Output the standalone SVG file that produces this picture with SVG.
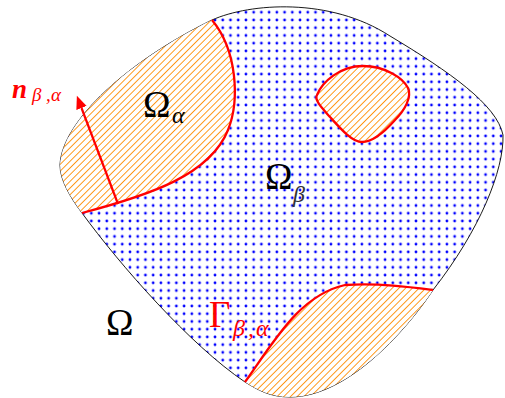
<svg xmlns="http://www.w3.org/2000/svg" width="505" height="398" viewBox="0 0 505 398">
  <style>
    .outer { fill: url(#dots); stroke: #000; stroke-width: 0.9; }
    .hatch { fill: url(#hatch); stroke: none; }
    .red { fill: none; stroke: #ff0000; stroke-width: 2.3; stroke-linejoin: round; }
    .lbl { font-family: "Liberation Serif", "DejaVu Serif", serif; }
    .big { font-size: 37px; }
    .sub { font-size: 24px; font-style: italic; }
  </style>
  <defs>
    <pattern id="dots" patternUnits="userSpaceOnUse" x="327.1" y="132.1" width="7.73" height="7.73">
      <circle cx="3.865" cy="3.865" r="1.4" fill="#0000ff"/>
    </pattern>
    <pattern id="hatch" patternUnits="userSpaceOnUse" width="4.74" height="10" patternTransform="rotate(45)">
      <rect x="0" y="0" width="4.74" height="10" fill="#ffffff"/>
      <line x1="2.37" y1="-1" x2="2.37" y2="11" stroke="#ff8c00" stroke-width="0.9"/>
    </pattern>
    <marker id="head" markerUnits="userSpaceOnUse" markerWidth="16" markerHeight="14" refX="0" refY="0" viewBox="0 -7 16 14" orient="auto">
      <path d="M0,-5.5 L13,0 L0,5.5 Z" fill="#ff0000"/>
    </marker>
  </defs>

  <g id="omega">
    <path class="outer" d="M212,20 C250,3 330,-3 390,36 C450,72 497,105 503,135 C504,170 480,230 433,290 C410,325 350,397 290,397 C270,397 258,390 245,382 C190,345 120,265 82,213 C70,197 60,180 60,165 C62,120 130,60 212,20 Z"/>
  </g>

  <g id="omega-alpha">
    <path class="hatch" d="M82,213 C70,197 60,180 60,165 C62,120 130,60 212,20 C237,50 240,100 228,130 C210,175 150,195 82,213 Z"/>
    <path class="red" d="M82,213 C150,195 210,175 228,130 C240,100 237,50 212,20"/>
  </g>

  <g id="omega-alpha-island">
    <path class="hatch" d="M317,95 C322,82 340,66 363,66 C385,66 403,78 408,88 C412,97 405,110 395,120 C380,137 370,142 362,142 C352,142 340,128 330,117 C322,108 314,100 317,95 Z"/>
    <path class="red" d="M317,95 C322,82 340,66 363,66 C385,66 403,78 408,88 C412,97 405,110 395,120 C380,137 370,142 362,142 C352,142 340,128 330,117 C322,108 314,100 317,95 Z"/>
  </g>

  <g id="omega-alpha-bottom">
    <path class="hatch" d="M245,382 C275,340 300,295 345,285 C380,283 410,287 433,290 C410,325 350,397 290,397 C270,397 258,390 245,382 Z"/>
    <path class="red" d="M245,382 C275,340 300,295 345,285 C380,283 410,287 433,290"/>
  </g>

  <g id="connectors">
    <line x1="118" y1="204" x2="81.5" y2="108" stroke="#ff0000" stroke-width="2.2" marker-end="url(#head)"/>
  </g>

  <g id="labels" class="lbl">
    <text x="143" y="117" class="big">Ω</text>
    <text x="172" y="123" class="sub">α</text>
    <text x="265" y="189" class="big">Ω</text>
    <text x="293" y="202" class="sub" fill="#333">β</text>
    <text x="106" y="335" class="big">Ω</text>
    <text x="209" y="327" class="big" fill="#ff0000">Γ</text>
    <text x="233" y="336" class="sub" fill="#ff0000">β<tspan x="248">,</tspan><tspan x="256">α</tspan></text>
    <text x="12" y="98" font-size="27" font-weight="bold" font-style="italic" fill="#ff0000">n</text>
    <text x="32" y="101" font-size="19" font-style="italic" fill="#ff0000">β<tspan x="46">,</tspan><tspan x="51">α</tspan></text>
  </g>
</svg>
